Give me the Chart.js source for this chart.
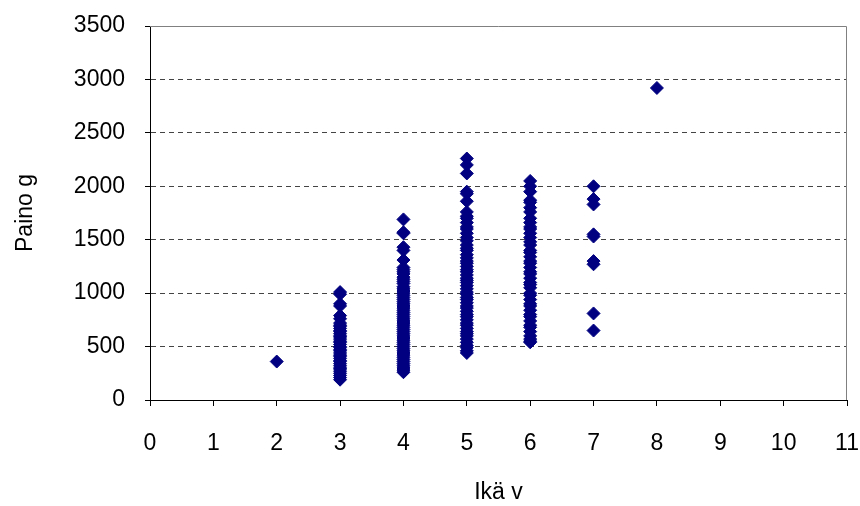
<!DOCTYPE html>
<html>
<head>
<meta charset="UTF-8">
<title>Ikä ja paino</title>
<script src="https://cdn.jsdelivr.net/npm/chart.js@4.4.1/dist/chart.umd.min.js"></script>
<style>
  body { margin: 0; background: #fff; }
  #wrap { width: 860px; height: 506px; }
</style>
</head>
<body>
<div id="wrap"><canvas id="myChart" width="860" height="506"></canvas></div>

<script>
// ikä (v) -> painot (g), luettu kuvasta
const age2 = [360];
const age3 = [1010, 990, 900, 880, 790, 760, 720, 700, 690, 670, 650, 640, 620, 600, 590, 570, 550, 540, 520, 500,
              490, 470, 460, 440, 420, 410, 390, 370, 360, 340, 320, 300, 290, 270, 250, 230, 210, 190];
const age4 = [1690, 1570, 1560, 1430, 1400, 1310, 1240, 1220, 1200, 1180, 1150, 1130, 1110, 1090, 1060, 1040, 1020,
              1000, 980, 960, 940, 920, 900, 880, 860, 840, 820, 800, 780, 760, 740, 720, 700, 680, 660, 640, 620,
              600, 580, 560, 540, 520, 500, 480, 460, 440, 420, 400, 380, 360, 340, 320, 300, 280, 260];
const age5 = [2260, 2200, 2120, 1950, 1930, 1860, 1760, 1720, 1700, 1660, 1620, 1600, 1560, 1520, 1490, 1450, 1420,
              1400, 1360, 1330, 1300, 1280, 1250, 1220, 1200, 1170, 1140, 1120, 1100, 1070, 1040, 1010, 990, 960,
              940, 910, 880, 860, 830, 800, 780, 750, 720, 700, 670, 640, 620, 600, 570, 540, 510, 490, 460, 440];
const age6 = [2050, 2000, 1950, 1870, 1850, 1800, 1760, 1700, 1660, 1620, 1600, 1560, 1520, 1480, 1450, 1400, 1380,
              1340, 1300, 1280, 1240, 1200, 1180, 1140, 1100, 1080, 1050, 1000, 980, 940, 900, 880, 840, 800, 780,
              740, 700, 680, 640, 600, 570, 550, 540];
const age7 = [2000, 1880, 1830, 1550, 1530, 1300, 1270, 810, 650];
const age8 = [2920];

const ages = [2, 3, 4, 5, 6, 7, 8];
const weights = [age2, age3, age4, age5, age6, age7, age8];

const xTicks = { min: 0, max: 11, step: 1 };
const yTicks = { min: 0, max: 3500, step: 500 };

let points = [];
ages.forEach(function(a, i) {
  weights[i].forEach(function(w) {
    points.push({ x: a, y: w });
  });
});

const fnt = { family: "'Liberation Sans Narrow', 'Liberation Sans', Arial, sans-serif", size: 23 };

// harmaa kehys piirtoalueen ylä- ja oikealle reunalle
const frame = {
  id: 'frame',
  beforeDatasetsDraw(chart) {
    const a = chart.chartArea;
    const ctx = chart.ctx;
    ctx.save();
    ctx.strokeStyle = '#808080';
    ctx.lineWidth = 1;
    ctx.beginPath();
    ctx.moveTo(a.left, a.top + 0.5);
    ctx.lineTo(a.right - 0.5, a.top + 0.5);
    ctx.lineTo(a.right - 0.5, a.bottom);
    ctx.stroke();
    ctx.restore();
  }
};

new Chart('myChart', {
  type: 'scatter',
  data: {
    datasets: [{
      data: points,
      pointStyle: 'rectRot',
      pointRadius: 6.5,
      backgroundColor: '#000080',
      borderColor: '#000080',
      borderWidth: 1
    }]
  },
  options: {
    responsive: false,
    animation: false,
    layout: { padding: { top: 26, right: 13, left: 0, bottom: 0 } },
    plugins: { legend: { display: false }, tooltip: { enabled: false } },
    scales: {
      x: {
        type: 'linear',
        min: xTicks.min, max: xTicks.max,
        afterFit: function(s) { s.height = 106; s.paddingLeft = 0; s.paddingRight = 0; },
        ticks: { stepSize: xTicks.step, color: '#000', font: fnt, padding: 24, maxRotation: 0,
                 callback: function(v) { return String(v); } },
        grid: { drawOnChartArea: false, drawTicks: true, tickLength: 6, tickColor: '#000' },
        border: { color: '#000', width: 1 },
        title: { display: true, text: 'Ikä v', color: '#000', font: fnt, padding: { bottom: 0 } }
      },
      y: {
        min: yTicks.min, max: yTicks.max,
        afterFit: function(s) { s.width = 150; s.paddingTop = 0; s.paddingBottom = 0; },
        ticks: { stepSize: yTicks.step, color: '#000', font: fnt, padding: 20,
                 callback: function(v) { return String(v); } },
        grid: {
          color: function(c) {
            const v = c.tick.value;
            return (v === yTicks.min || v === yTicks.max) ? 'rgba(0,0,0,0)' : '#444';
          },
          tickBorderDash: [],
          tickLength: 5,
          tickColor: '#000'
        },
        border: { color: '#000', width: 1, dash: [5, 4] },
        title: { display: true, text: 'Paino g', color: '#000', font: fnt, padding: { top: 12 } }
      }
    }
  },
  plugins: [frame]
});
</script>
</body>
</html>
